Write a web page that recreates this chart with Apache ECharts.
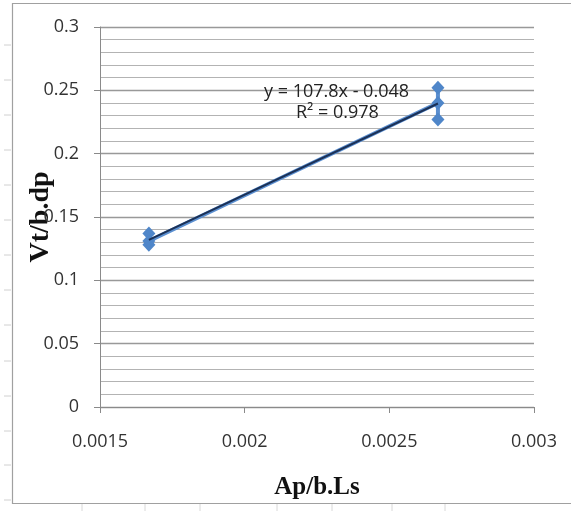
<!DOCTYPE html>
<html>
<head>
<meta charset="utf-8">
<script src="https://cdn.jsdelivr.net/npm/echarts@6/dist/echarts.min.js"></script>
<style>html,body{margin:0;padding:0;background:#fff;}#c{width:571px;height:511px;}</style>
</head>
<body>
<div id="c"></div>
<script>
// Data
var xValues = [0.001669, 0.001669, 0.001669, 0.002668, 0.002668, 0.002668];
var yValues = [0.137, 0.128, 0.131, 0.240, 0.227, 0.252];
var trendSlope = 107.8;
var trendIntercept = -0.048;
var trendX = [0.001669, 0.002668];
var equationText = 'y = 107.8x - 0.048';
var r2Text = 'R² = 0.978';
var xTicks = [0.0015, 0.002, 0.0025, 0.003];
var yTicks = [0, 0.05, 0.1, 0.15, 0.2, 0.25, 0.3];

var points = xValues.map(function (x, i) { return [x, yValues[i]]; });
var trend = trendX.map(function (x) { return [x, trendSlope * x + trendIntercept]; });

// faint page ruler marks outside the chart frame (decoration)
var deco = [];
[45, 80, 115, 150, 185, 220, 255, 290, 325, 361, 396, 431, 465, 500].forEach(function (y) {
  deco.push({type: 'line', shape: {x1: 4, y1: y, x2: 11, y2: y}, style: {stroke: '#d0d0d0', lineWidth: 1}});
});
[82, 145, 200, 277, 332, 392, 445].forEach(function (x) {
  deco.push({type: 'line', shape: {x1: x, y1: 504, x2: x, y2: 511}, style: {stroke: '#d8d8d8', lineWidth: 1}});
});

var chart = echarts.init(document.getElementById('c'));
var labelFont = {color: '#333', fontSize: 18, fontFamily: 'Open Sans'};
chart.setOption({
  animation: false,
  backgroundColor: '#fff',
  grid: {left: 100, right: 37, top: 27, bottom: 104},
  xAxis: {
    type: 'value', min: 0.0015, max: 0.003, interval: 0.0005,
    axisLine: {show: true, onZero: false, lineStyle: {color: '#8a8a8a', width: 1}},
    axisTick: {show: true, length: 6, lineStyle: {color: '#8a8a8a'}},
    splitLine: {show: false},
    axisLabel: Object.assign({margin: 26, formatter: function (v) { return String(+v.toFixed(4)); }}, labelFont),
    name: 'Ap/b.Ls', nameLocation: 'middle', nameGap: 68, nameMoveOverlap: false,
    nameTextStyle: {fontFamily: 'Liberation Serif', fontWeight: 'bold', fontSize: 25, color: '#111'}
  },
  yAxis: {
    type: 'value', min: 0, max: 0.3, interval: 0.05,
    axisLine: {show: true, lineStyle: {color: '#8a8a8a', width: 1}},
    axisTick: {show: true, length: 6, lineStyle: {color: '#8a8a8a'}},
    minorTick: {show: false, splitNumber: 5},
    splitLine: {show: true, lineStyle: {color: '#999', width: 1.4}},
    minorSplitLine: {show: true, lineStyle: {color: '#b3b3b3', width: 1}},
    axisLabel: Object.assign({margin: 21, formatter: function (v) { return String(+v.toFixed(2)); }}, labelFont),
    name: 'Vt/b.dp', nameLocation: 'middle', nameGap: 45, nameMoveOverlap: false,
    nameTextStyle: {fontFamily: 'Liberation Serif', fontWeight: 'bold', fontSize: 28, color: '#111'}
  },
  series: [
    {
      type: 'line', data: points, symbol: 'diamond', symbolSize: [13, 14],
      itemStyle: {color: '#4f86c9'},
      lineStyle: {color: '#5b8fd0', width: 4},
      z: 2
    },
    {
      type: 'line', data: trend, symbol: 'none',
      lineStyle: {color: '#1b3157', width: 2},
      z: 3
    }
  ],
  graphic: deco.concat([
    {type: 'rect', shape: {x: 12.5, y: 3.5, width: 600, height: 500}, style: {fill: 'none', stroke: '#a0a0a0', lineWidth: 1.2}, z: -1},
    {type: 'text', left: 264, top: 83, style: {text: equationText, font: '18px "Open Sans"', fill: '#222'}, z: 10},
    {type: 'text', left: 296, top: 104, style: {text: r2Text, font: '18px "Open Sans"', fill: '#222'}, z: 10}
  ])
});
</script>
</body>
</html>
